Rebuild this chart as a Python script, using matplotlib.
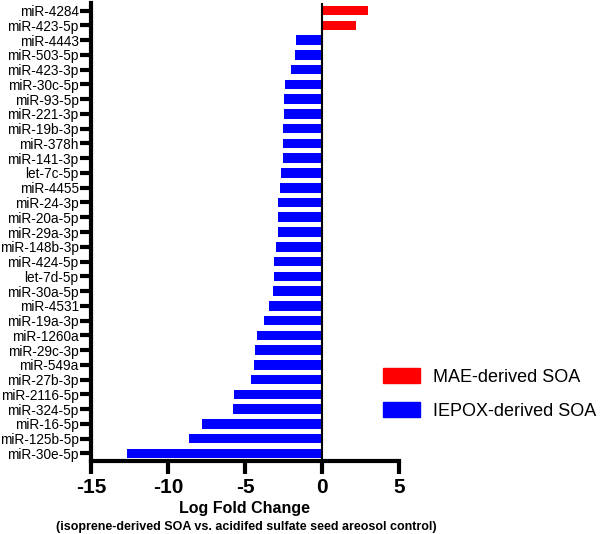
import matplotlib
matplotlib.use("Agg")
import matplotlib.pyplot as plt
from matplotlib.patches import Patch

plt.rcParams['font.family'] = ['Liberation Sans', 'DejaVu Sans']

# miRNA names, top to bottom
mirnas = ['miR-4284', 'miR-423-5p', 'miR-4443', 'miR-503-5p', 'miR-423-3p',
          'miR-30c-5p', 'miR-93-5p', 'miR-221-3p', 'miR-19b-3p', 'miR-378h',
          'miR-141-3p', 'let-7c-5p', 'miR-4455', 'miR-24-3p', 'miR-20a-5p',
          'miR-29a-3p', 'miR-148b-3p', 'miR-424-5p', 'let-7d-5p', 'miR-30a-5p',
          'miR-4531', 'miR-19a-3p', 'miR-1260a', 'miR-29c-3p', 'miR-549a',
          'miR-27b-3p', 'miR-2116-5p', 'miR-324-5p', 'miR-16-5p', 'miR-125b-5p',
          'miR-30e-5p']
log_fc = [3.0, 2.2, -1.70, -1.79, -2.03, -2.40, -2.44, -2.48, -2.53, -2.55,
          -2.55, -2.64, -2.71, -2.86, -2.88, -2.88, -2.99, -3.14, -3.14, -3.20,
          -3.46, -3.77, -4.22, -4.33, -4.40, -4.61, -5.73, -5.76, -7.81, -8.66,
          -12.66]
source = ['MAE', 'MAE'] + ['IEPOX'] * 29

colors = {'MAE': '#ff0000', 'IEPOX': '#0000ff'}
labels = {'MAE': 'MAE-derived SOA', 'IEPOX': 'IEPOX-derived SOA'}

fig = plt.figure(figsize=(6, 5.34), dpi=100)
ax = fig.add_axes([0.152, 0.137, 0.513, 0.857])

pos = list(range(len(mirnas)))
bar_colors = [colors[s] for s in source]
ax.barh(pos, log_fc, height=0.65, color=bar_colors)
ax.axvline(0, color='black', linewidth=1.5)

ax.set_ylim(len(mirnas) - 0.5, -0.5)
ax.set_yticks(pos)
ax.set_yticklabels(mirnas, fontsize=9.8)
ax.set_xlim(-15, 5)
ax.set_xticks([-15, -10, -5, 0, 5])
ax.set_xticklabels(['-15', '-10', '-5', '0', '5'], fontsize=15, fontweight='bold')

for side in ['top', 'right']:
    ax.spines[side].set_visible(False)
for side in ['left', 'bottom']:
    ax.spines[side].set_linewidth(3)
ax.tick_params(axis='y', length=8, width=3, pad=1)
ax.tick_params(axis='x', length=9, width=3, pad=3)

fig.text(0.408, 0.048, 'Log Fold Change', ha='center', va='center',
         fontsize=11.5, fontweight='bold')
fig.text(0.41, 0.014, '(isoprene-derived SOA vs. acidifed sulfate seed areosol control)',
         ha='center', va='center', fontsize=9, fontweight='bold')

handles = [Patch(color=colors[k], label=labels[k]) for k in ['MAE', 'IEPOX']]
fig.legend(handles=handles, loc='upper left', bbox_to_anchor=(0.638, 0.31),
           frameon=False, fontsize=13, handlelength=2.05, handleheight=0.9,
           handletextpad=0.72, labelspacing=0.9, borderpad=0, borderaxespad=0)

fig.savefig('out.png', dpi=100)
